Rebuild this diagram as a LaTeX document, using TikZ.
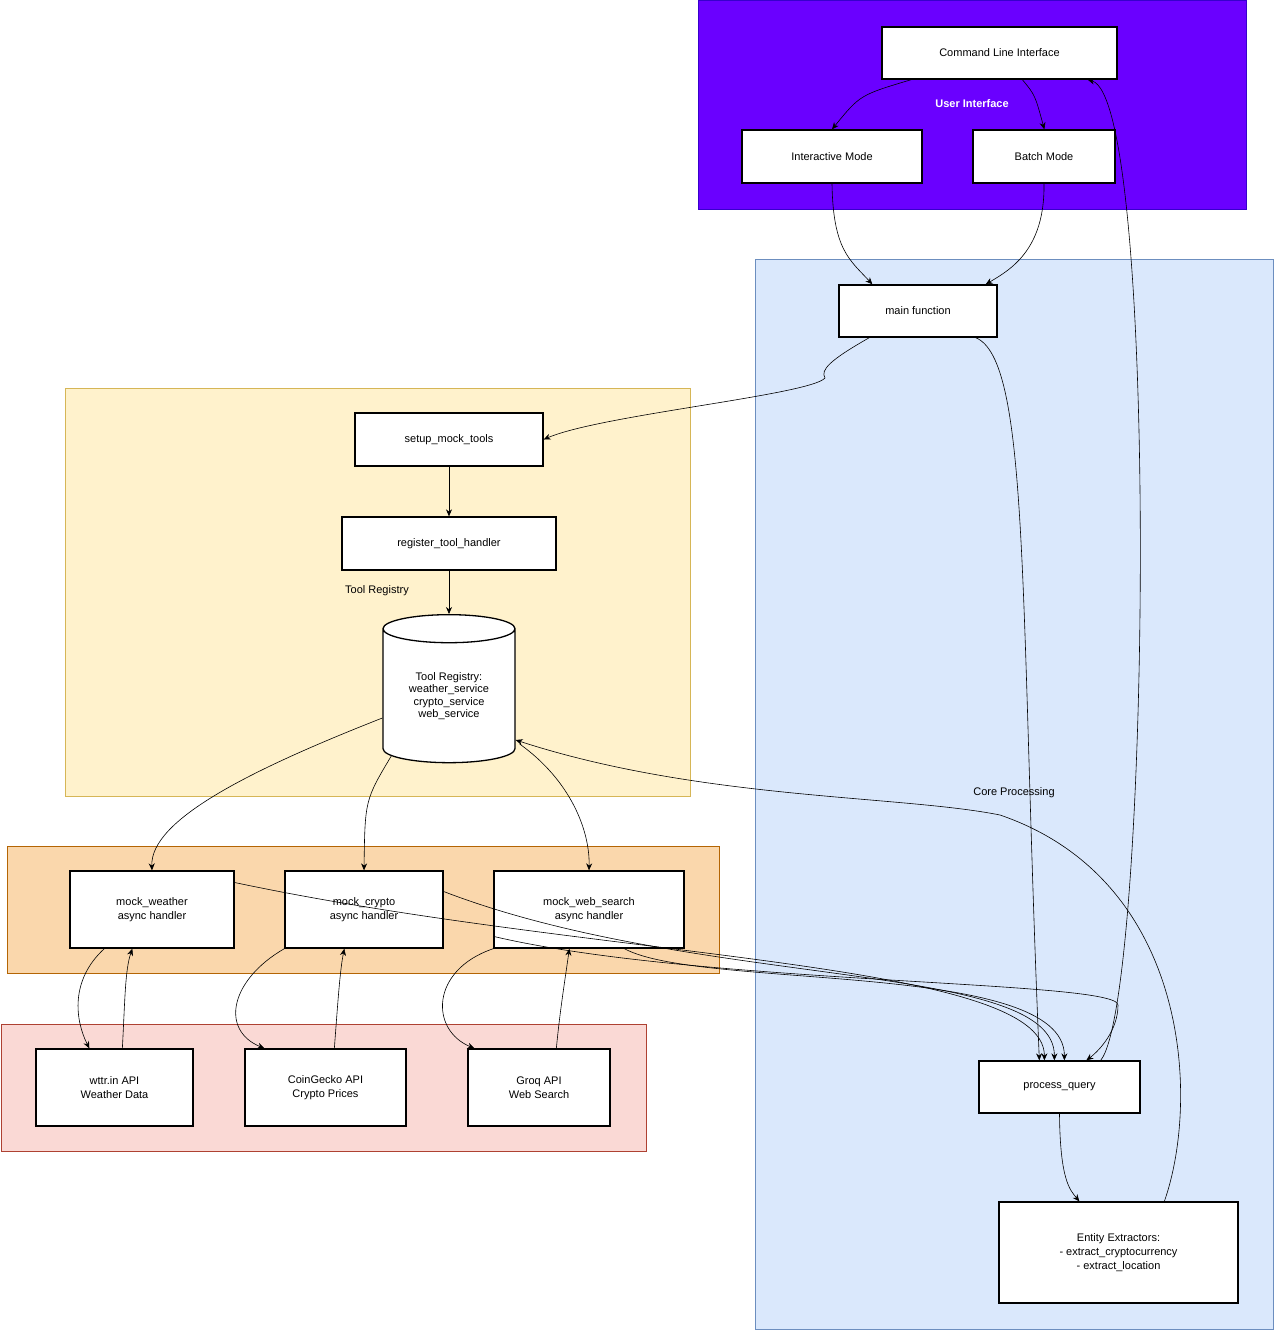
\documentclass[tikz,border=0pt]{standalone}
\usepackage{fontspec}
\setmainfont{Liberation Sans}
\usetikzlibrary{arrows.meta,shapes.geometric,calc}
\definecolor{uib}{HTML}{6A00FF}\definecolor{uid}{HTML}{3700CC}
\definecolor{cpb}{HTML}{DAE8FC}\definecolor{cpd}{HTML}{6C8EBF}
\definecolor{trb}{HTML}{FFF2CC}\definecolor{trd}{HTML}{D6B656}
\definecolor{orb}{HTML}{FAD7AC}\definecolor{ord}{HTML}{B46504}
\definecolor{rdb}{HTML}{FAD9D5}\definecolor{rdd}{HTML}{AE4132}
\begin{document}
\begin{tikzpicture}[x=1pt,y=-1pt,
 box/.style={draw=black,fill=white,line width=1.3pt,font=\fontsize{11}{14}\selectfont,align=center,inner sep=0pt},
 e/.style={-{Stealth[length=7pt,width=6pt]},line width=0.6pt},
 lab/.style={font=\fontsize{11}{14}\selectfont}]
\useasboundingbox (0,0) rectangle (1274,1330);
\draw[fill=uib,draw=uid,line width=1pt] (698,1) rectangle (1246,209);
\draw[fill=cpb,draw=cpd,line width=1pt] (755,259) rectangle (1273,1329);
\draw[fill=trb,draw=trd,line width=1pt] (65,388) rectangle (690,796);
\draw[fill=orb,draw=ord,line width=1pt] (7,846) rectangle (719,973);
\draw[fill=rdb,draw=rdd,line width=1pt] (1,1024) rectangle (646,1151);
\node[lab,text=white,font=\bfseries\fontsize{11}{14}\selectfont] (uil) at (972,104) {User Interface};
\node[lab] (cpl) at (1014,793) {Core Processing};
\node[lab] (trl) at (377,591) {Tool Registry};
\newcommand{\bx}[6]{\node[box,minimum width=#4-#2,minimum height=#5-#3] (#1) at ({(#2+#4)/2},{(#3+#5)/2}) {#6};}
\bx{cli}{882}{27}{1117}{79}{Command Line Interface}
\bx{inter}{742}{130}{922}{183}{Interactive Mode}
\bx{batch}{973}{130}{1115}{183}{Batch Mode}
\bx{main}{839}{285}{997}{337}{main function}
\bx{setup}{355}{413}{543}{466}{setup\_mock\_tools}
\bx{reg}{342}{517}{556}{570}{register\_tool\_handler}
\node[draw,fill=white,line width=1.3pt,cylinder,shape border rotate=90,aspect=0.35,minimum width=132pt,minimum height=148pt,font=\fontsize{11}{14}\selectfont,align=center,inner sep=0pt] (cyl) at (449,696) {Tool Registry:\\[-1.5pt]weather\_service\\[-1.5pt]crypto\_service\\[-1.5pt]web\_service};
\bx{mw}{70}{871}{234}{948}{mock\_weather\\async handler}
\bx{mc}{285}{871}{443}{948}{mock\_crypto\\async handler}
\bx{ms}{494}{871}{684}{948}{mock\_web\_search\\async handler}
\bx{wttr}{36}{1049}{193}{1126}{wttr.in API\\Weather Data}
\bx{cg}{245}{1049}{406}{1126}{CoinGecko API\\Crypto Prices}
\bx{groq}{468}{1049}{610}{1126}{Groq API\\Web Search}
\bx{pq}{979}{1061}{1140}{1113}{process\_query}
\bx{ee}{999}{1202}{1238}{1303}{Entity Extractors:\\- extract\_cryptocurrency\\- extract\_location}
\draw[e] ($(cli.south west)+(30,0)$) .. controls (860,95) .. (inter.north);
\draw[e] ($(cli.south west)+(141,0)$) .. controls (1035,95) .. ($(batch.north west)+(72,0)$);
\draw[e] (inter.south) .. controls (833,250) and (850,260) .. ($(main.north west)+(34,0)$);
\draw[e] (batch.south) .. controls (1045,250) and (1010,270) .. ($(main.north east)+(-12,0)$);
\draw[e] ($(main.south west)+(31,0)$) .. controls (830,360) and (820,370) .. (825,378) .. controls (810,395) and (600,415) .. (setup.east);
\draw[e] ($(main.south east)+(-22,0)$) .. controls (1030,360) and (1020,600) .. ($(pq.north west)+(61,0)$);
\draw[e] (setup) -- (reg);
\draw[e] (reg) -- (cyl.top);
\draw[e] ($(cyl.west)+(0,22)$) .. controls (250,770) and (150,820) .. (mw.north);
\draw[e] ($(cyl.south west)+(2,0)$) .. controls (365,800) .. (mc.north);
\draw[e] ($(cyl.east)+(4,48)$) .. controls (570,780) and (590,830) .. (ms.north);
\draw[e] ($(ee.north west)+(166,0)$) .. controls (1200,1100) and (1190,880) .. (1000,815) .. controls (900,795) and (700,800) .. ($(cyl.east)+(0,44)$);
\draw[e] ($(mw.east)+(0,-27)$) .. controls (600,960) and (1045,960) .. ($(pq.north west)+(66,0)$);
\draw[e] ($(mc.east)+(0,-18)$) .. controls (700,990) and (1055,960) .. ($(pq.north west)+(76,0)$);
\draw[e] ($(ms.south west)+(131,0)$) .. controls (700,990) and (1065,960) .. ($(pq.north west)+(86,0)$);
\draw[e] ($(ms.north west)+(0,66)$) .. controls (700,985) and (1118,980) .. (1118,1005) .. controls (1118,1030) and (1100,1050) .. ($(pq.north west)+(108,0)$);
\draw[e] ($(pq.north east)+(-40,0)$) .. controls (1150,1000) and (1160,100) .. ($(cli.south east)+(-30,0)$);
\draw[e] ($(mw.south west)+(35,0)$) .. controls (70,980) and (75,1020) .. ($(wttr.north west)+(54,0)$);
\draw[e] ($(wttr.north west)+(87,0)$) .. controls (125,1000) and (125,970) .. ($(mw.south west)+(63,0)$);
\draw[e] (mc.south west) .. controls (230,980) and (220,1030) .. ($(cg.north west)+(20,0)$);
\draw[e] ($(cg.north west)+(90,0)$) .. controls (338,1000) and (340,970) .. ($(mc.south west)+(60,0)$);
\draw[e] (ms.south west) .. controls (430,970) and (430,1030) .. ($(groq.north west)+(7,0)$);
\draw[e] ($(groq.north west)+(89,0)$) .. controls (560,1010) and (565,980) .. ($(ms.south west)+(76,0)$);
\draw[e] (pq.south) .. controls (1060,1180) and (1070,1190) .. ($(ee.north west)+(81,0)$);
\end{tikzpicture}
\end{document}
